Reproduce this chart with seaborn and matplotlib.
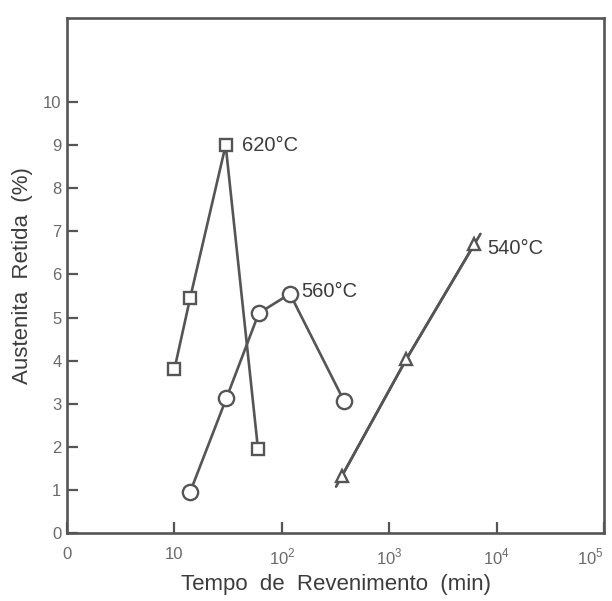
import numpy as np
import pandas as pd
import matplotlib
matplotlib.use("Agg")
import matplotlib.pyplot as plt
import seaborn as sns

# Tempering time (min) and retained austenite (%) for each tempering temperature
t_620 = [10, 14, 30, 60]
a_620 = [3.8, 5.45, 9.0, 1.95]

t_560 = [14, 30.5, 61, 119, 380]
a_560 = [0.95, 3.13, 5.1, 5.55, 3.06]

t_540 = [362, 1440, 6200]
a_540 = [1.32, 4.03, 6.7]

labels = ["620°C", "560°C", "540°C"]
label_points = [(30, 9.0), (119, 5.55), (6200, 6.7)]

x_ticks = [1, 10, 100, 1000, 10000, 100000]
x_ticklabels = ["0", "10", "$10^2$", "$10^3$", "$10^4$", "$10^5$"]
y_ticks = list(range(0, 11))

sns.set_theme(style="white")
plt.rcParams["font.family"] = ["Liberation Sans", "DejaVu Sans"]
plt.rcParams["mathtext.fontset"] = "custom"
plt.rcParams["mathtext.rm"] = "Liberation Sans"

line_color = "#555555"
text_color = "#3c3c3c"
tick_color = "#6a6a6a"

fig = plt.figure(figsize=(6.12, 6.01), dpi=100)
ax = fig.add_axes([0.1095, 0.1131, 0.8775, 0.857])

common = dict(color=line_color, linewidth=1.9, markersize=10,
              markerfacecolor="white", markeredgecolor=line_color,
              markeredgewidth=1.7, ax=ax, legend=False)

df620 = pd.DataFrame({"t": t_620, "a": a_620})
df560 = pd.DataFrame({"t": t_560, "a": a_560})
df540 = pd.DataFrame({"t": t_540, "a": a_540})

# The 540 °C line runs a little past its end points
lt = np.log10(df540["t"].to_numpy())
av = df540["a"].to_numpy()
f0 = -0.09
f1 = 0.09
start_t = 10 ** (lt[0] + f0 * (lt[1] - lt[0]))
start_a = av[0] + f0 * (av[1] - av[0])
end_t = 10 ** (lt[-1] + f1 * (lt[-1] - lt[-2]))
end_a = av[-1] + f1 * (av[-1] - av[-2])
ext = pd.DataFrame({"t": [start_t] + list(df540["t"]) + [end_t],
                    "a": [start_a] + list(av) + [end_a]})
sns.lineplot(data=ext, x="t", y="a", sort=False, estimator=None,
             color=line_color, linewidth=1.9, ax=ax, legend=False)

sns.lineplot(data=df620, x="t", y="a", sort=False, estimator=None,
             marker="s", **{**common, "markersize": 9})
sns.lineplot(data=df560, x="t", y="a", sort=False, estimator=None,
             marker="o", **{**common, "markersize": 11})
sns.lineplot(data=df540, x="t", y="a", sort=False, estimator=None,
             marker="^", **{**common, "markersize": 8})

offsets = [(12, 0), (8, 2), (9, -3)]
for lab, (px, py), off in zip(labels, label_points, offsets):
    ax.annotate(lab, xy=(px, py), xytext=off, textcoords="offset points",
                ha="left", va="center", fontsize=14.5, color=text_color)

ax.set_xscale("log")
ax.set_xlim(1, 1e5)
ax.set_ylim(0, 11.95)
ax.set_xticks(x_ticks)
ax.set_xticklabels(x_ticklabels)
ax.set_yticks(y_ticks)
ax.minorticks_off()
ax.tick_params(axis="both", direction="in", length=8, width=1.6,
               color=line_color, labelcolor=tick_color, labelsize=12)
ax.tick_params(axis="x", pad=10)
ax.tick_params(axis="y", pad=4)
ax.xaxis.set_ticks_position("bottom")
ax.yaxis.set_ticks_position("left")
ax.get_xticklabels()[-1].set_horizontalalignment("right")

for sp in ax.spines.values():
    sp.set_color(line_color)
    sp.set_linewidth(1.9)

ax.set_xlabel("Tempo  de  Revenimento  (min)", fontsize=16,
              color=text_color, labelpad=5)
ax.set_ylabel("Austenita  Retida  (%)", fontsize=16,
              color=text_color, labelpad=7)

fig.savefig("out.png", dpi=100, facecolor="white")
